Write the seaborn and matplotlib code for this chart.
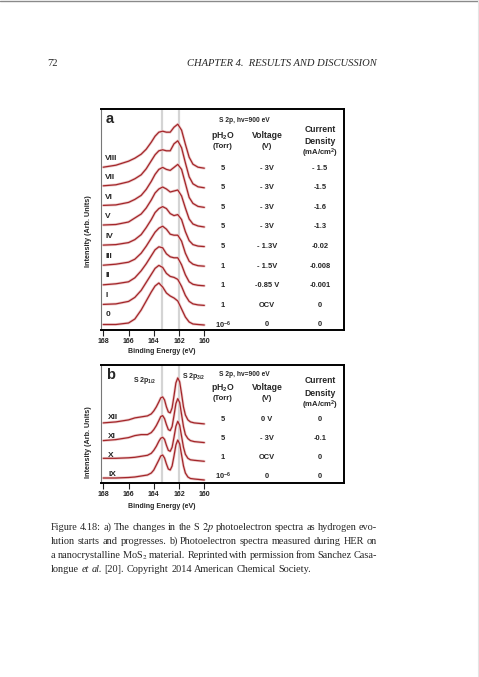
import matplotlib
matplotlib.use("Agg")
from matplotlib import pyplot as plt
import seaborn as sns

W, H = 479, 677

# ---------------- panel a : S 2p spectra during HER (intensity above baseline, arb.)
energy_a = [168.0, 167.0, 166.0, 165.5, 165.0, 164.6, 164.2, 163.9, 163.6, 163.3,
            163.0, 162.7, 162.4, 162.1, 161.8, 161.5, 161.2, 160.9, 160.5, 160.0]
spec_0 = [0.5, 0.5, 2, 6, 15, 24, 33, 39, 42, 38, 32, 29, 27, 24, 16, 8, 3, 1, 0.5, 0]
spec_I = [1, 1.5, 4, 8, 15, 23, 31, 37, 40, 38, 32, 29, 28, 26, 19, 10, 4, 1.5, 0.5, 0]
spec_II = [1, 2, 4, 8, 15, 22, 30, 36, 39, 38, 32, 29, 28, 28, 21, 11, 4, 1.5, 0.5, 0]
spec_III = [1, 2, 4, 7, 13, 20, 28, 34, 38, 40, 37, 32, 31, 31, 25, 13, 5, 2, 0.5, 0]
spec_IV = [1.5, 2, 4, 7, 12, 19, 27, 34, 38, 40, 38, 33, 31, 32, 27, 15, 6, 2, 0.5, 0]
spec_V = [2, 2.5, 5, 9, 13, 19, 27, 34, 38, 40, 38, 35, 36, 37, 31, 19, 8, 3, 1, 0]
spec_VI = [2, 2.5, 5, 8, 12, 18, 26, 33, 38, 40, 38, 37, 40, 43, 38, 24, 10, 4, 1, 0]
spec_VII = [2, 3, 6, 9, 13, 19, 27, 33, 37, 38, 37, 37, 44, 47, 40, 25, 11, 4, 1, 0]
spec_VIII = [1, 3, 7, 10, 14, 19, 26, 32, 36, 37, 36, 36, 41, 44, 38, 24, 11, 4, 1, 0]
labels_a = ["0", "I", "II", "III", "IV", "V", "VI", "VII", "VIII"]
ph2o_a = ["10$^{-6}$", "1", "1", "1", "5", "5", "5", "5", "5"]
voltage_a = ["0", "OCV", "-0.85 V", "- 1.5V", "- 1.3V", "- 3V", "- 3V", "- 3V", "- 3V"]
current_a = ["0", "0", "-0.001", "-0.008", "-0.02", "-1.3", "-1.6", "-1.5", "- 1.5"]

# ---------------- panel b : nanocrystalline MoS2
energy_b = [168.0, 167.0, 166.0, 165.5, 165.0, 164.5, 164.2, 164.0, 163.8, 163.6,
            163.45, 163.3, 163.15, 163.0, 162.85, 162.7, 162.55, 162.4, 162.25, 162.1,
            161.95, 161.8, 161.65, 161.5, 161.3, 161.1, 160.8, 160.4, 160.0]
spec_IX = [2, 2, 2.5, 3, 4, 5, 7, 10, 15, 20, 24, 25, 22, 16, 11, 10, 14, 24, 35, 40,
           36, 25, 14, 7, 3, 1.5, 1, 0.5, 0]
spec_X = [3, 3, 3.5, 4, 5, 6, 8, 11, 15, 20, 23, 24, 22, 16, 11, 10, 14, 24, 35, 40,
          36, 25, 14, 7, 3, 1.5, 1, 0.5, 0]
spec_XI = [2, 3, 5, 7, 8, 8, 10, 13, 17, 22, 26, 27, 24, 18, 13, 12, 16, 27, 39, 44,
           40, 28, 16, 8, 4, 2, 1, 0.5, 0]
spec_XII = [1, 2, 4, 6, 7, 8, 10, 13, 17, 22, 26, 27, 24, 17, 12, 11, 16, 28, 41, 46,
            42, 30, 17, 9, 4, 2, 1, 0.5, 0]
labels_b = ["IX", "X", "XI", "XII"]
ph2o_b = ["10$^{-6}$", "1", "5", "5"]
voltage_b = ["0", "OCV", "- 3V", "0 V"]
current_b = ["0", "0", "-0.1", "0"]

ticks = [168, 166, 164, 162, 160]
ref_lines = [163.35, 161.98]

# words between * are set in italics
caption = [
    "Figure 4.18: a) The changes in the S $2p$ photoelectron spectra as hydrogen evo-",
    "lution starts and progresses. b) Photoelectron spectra measured during HER on",
    "a nanocrystalline MoS$_2$ material. Reprinted with permission from Sanchez Casa-",
    "longue *et* *al.* [20]. Copyright 2014 American Chemical Society.",
]

sns.set_theme(style="white")
plt.rcParams["font.family"] = ["Liberation Sans", "DejaVu Sans"]
plt.rcParams["mathtext.fontset"] = "custom"
plt.rcParams["mathtext.rm"] = "Liberation Sans:bold"
plt.rcParams["mathtext.it"] = "Liberation Sans:italic:bold"
plt.rcParams["mathtext.bf"] = "Liberation Sans:bold"

RED = "#a3262a"
HALO = "#edcccc"


def px(x, y):
    return x / W, 1 - y / H


fig = plt.figure(figsize=(W / 100, H / 100), dpi=100)


def make_panel(top, bottom, energy, spectra, labels, ph2o, volt, curr,
               step, ylo, lab_x, lab_dy, row_dy):
    ax = fig.add_axes([101 / W, 1 - bottom / H, 243 / W, (bottom - top) / H])
    ax.set_xlim(168.18, 148.94)
    ax.set_ylim(ylo, ylo + (bottom - top))
    for e in ref_lines:
        ax.axvline(e, color="#d4d4d4", lw=1.6, zorder=0)
    ytr = ax.get_yaxis_transform()
    for i, (s, lab) in enumerate(zip(spectra, labels)):
        off = i * step
        y = [v + off for v in s]
        sns.lineplot(x=energy, y=y, ax=ax, color=HALO, lw=2.0, sort=False,
                     estimator=None, zorder=2)
        sns.lineplot(x=energy, y=y, ax=ax, color=RED, lw=0.9, sort=False,
                     estimator=None, zorder=3)
        ax.text(lab_x, off + lab_dy, lab, fontsize=6, fontweight="bold",
                va="center", ha="left")
        for xf, txt in zip([0.502, 0.683, 0.901], [ph2o[i], volt[i], curr[i]]):
            ax.text(xf, off + row_dy, txt, transform=ytr, fontsize=5.4,
                    fontweight="bold", ha="center", va="center")
    ax.set_xticks(ticks)
    ax.set_xticklabels([str(t) for t in ticks], fontsize=5, fontweight="bold")
    ax.set_yticks([])
    ax.tick_params(axis="x", direction="out", length=4, width=0.8, pad=1.5,
                   bottom=True, colors="#222222")
    for side in ["top", "right", "bottom"]:
        ax.spines[side].set_color("black")
        ax.spines[side].set_linewidth(1.4)
    ax.spines["left"].set_color("#777777")
    ax.spines["left"].set_linewidth(0.8)
    ax.set_xlabel("")
    ax.set_ylabel("")
    return ax


ax_a = make_panel(109, 330, energy_a,
                  [spec_0, spec_I, spec_II, spec_III, spec_IV, spec_V, spec_VI,
                   spec_VII, spec_VIII],
                  labels_a, ph2o_a, voltage_a, current_a, 19.6, -5, 167.85, 10, 0)
ax_b = make_panel(365, 483, energy_b, [spec_IX, spec_X, spec_XI, spec_XII],
                  labels_b, ph2o_b, voltage_b, current_b, 18.7, -3, 167.6, 6, 4)

# panel annotations (pixel positions on the page)
for top, lab, xl_y, yl_y in [(109, "a", 352, 231), (365, "b", 506, 442)]:
    fig.text(*px(106, top + 10), lab, fontsize=10.5, fontweight="bold",
             va="center", ha="left")
    fig.text(*px(162, xl_y), "Binding Energy (eV)", fontsize=5, fontweight="bold",
             ha="center", va="center")
    fig.text(*px(88, yl_y), "Intensity (Arb. Units)", fontsize=5.2, fontweight="bold",
             ha="center", va="center", rotation=90)

for hy, dy in [(121, 0), (374, -1)]:
    fig.text(*px(244, hy), "S 2p, hv=900 eV", fontsize=4.8, fontweight="bold",
             ha="center", va="center")
    base = hy + 15 + dy
    fig.text(*px(223, base), "pH$_2$O", fontsize=6.2, fontweight="bold",
             ha="center", va="center")
    fig.text(*px(223, base + 11), "(Torr)", fontsize=5.6, fontweight="bold",
             ha="center", va="center")
    fig.text(*px(267, base), "Voltage", fontsize=6.2, fontweight="bold",
             ha="center", va="center")
    fig.text(*px(267, base + 11), "(V)", fontsize=5.6, fontweight="bold",
             ha="center", va="center")
    fig.text(*px(320, base - 7), "Current", fontsize=6.2, fontweight="bold",
             ha="center", va="center")
    fig.text(*px(320, base + 5), "Density", fontsize=6.2, fontweight="bold",
             ha="center", va="center")
    fig.text(*px(320, base + 17), "(mA/cm$^2$)", fontsize=5.6, fontweight="bold",
             ha="center", va="center")

fig.text(*px(145, 381), "S 2p$_{1/2}$", fontsize=5, fontweight="bold",
         ha="center", va="center")
fig.text(*px(182, 377), "S 2p$_{3/2}$", fontsize=5, fontweight="bold",
         ha="left", va="center")

# page header
SERIF = ["Liberation Serif", "DejaVu Serif"]
fig.text(*px(47, 63), "72", fontsize=7.6, family=SERIF, ha="left", va="center")
fig.text(*px(377, 63), "CHAPTER 4.  RESULTS AND DISCUSSION", fontsize=7.6,
         family=SERIF, style="italic", ha="right", va="center")

# caption, justified word by word
renderer = fig.canvas.get_renderer()
cap_fs = 7.35
for k, line in enumerate(caption):
    y = 527 + k * 14.1
    words = line.split(" ")
    texts = []
    for w in words:
        ital = w.startswith("*") and w.endswith("*")
        texts.append(fig.text(0, 0, w.strip("*"), fontsize=cap_fs, family=SERIF,
                              style="italic" if ital else "normal",
                              math_fontfamily="stix", ha="left", va="baseline"))
    widths = [t.get_window_extent(renderer).width for t in texts]
    if k < len(caption) - 1:
        gap = (377 - 51 - sum(widths)) / (len(words) - 1)
    else:
        gap = cap_fs * 100 / 72 * 0.25
    x = 51
    for t, w in zip(texts, widths):
        t.set_position(px(x, y + 3))
        x += w + gap

# thin page edges
fig.add_artist(plt.Line2D([0, 1], [1 - 0.5 / H, 1 - 0.5 / H], color="#8a8a8a", lw=1.0))
fig.add_artist(plt.Line2D([1 - 1.5 / W, 1 - 1.5 / W], [0, 1], color="#e4e4e4", lw=0.8))

fig.savefig("out.png", dpi=100)
